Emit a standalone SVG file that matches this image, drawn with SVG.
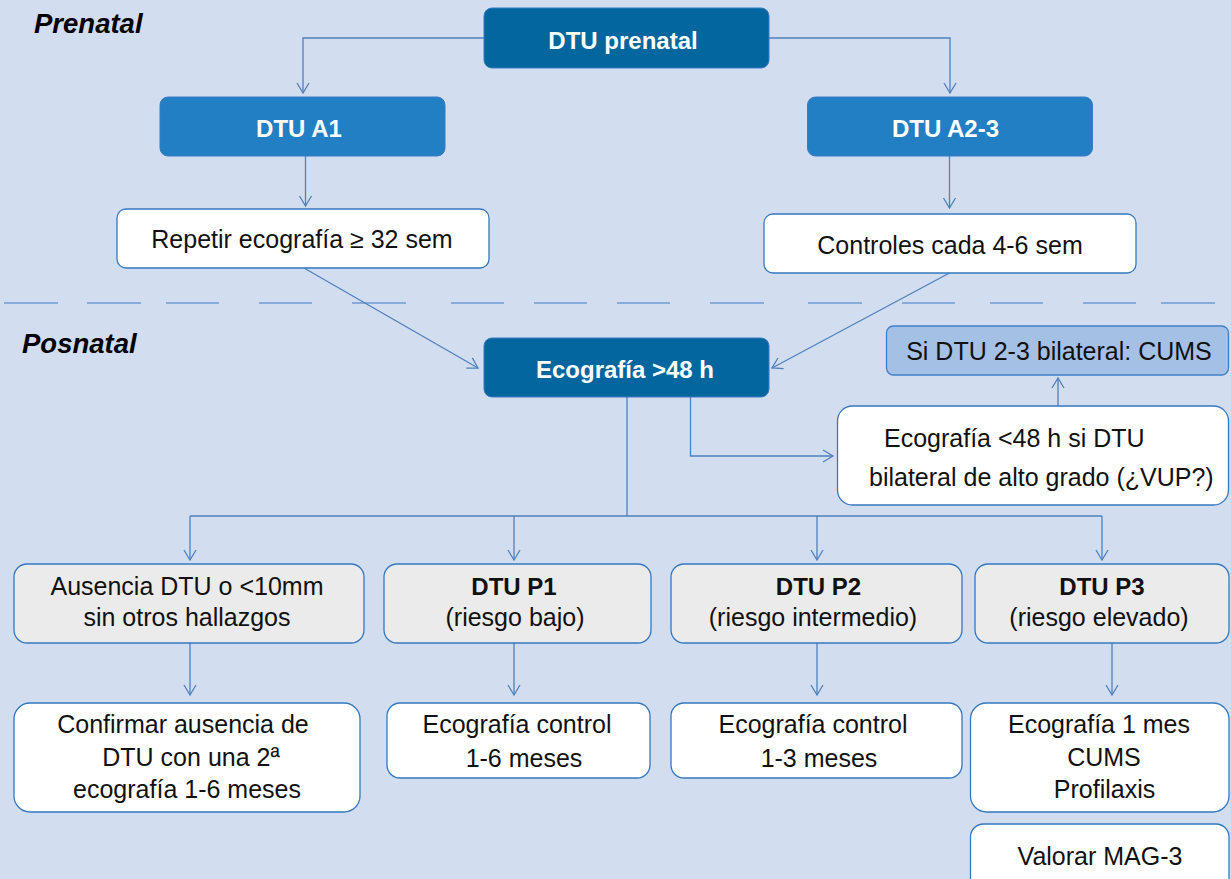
<svg xmlns="http://www.w3.org/2000/svg" width="1231" height="879" viewBox="0 0 1231 879">
<defs>
<marker id="arr" markerUnits="userSpaceOnUse" markerWidth="16" markerHeight="16" refX="11" refY="7" orient="auto">
<path d="M1,1 L11,7 L1,13" fill="none" stroke="#4F81BD" stroke-width="1.3"/>
</marker>
<style>
.bg{fill:#D2DDF0}
.dark{fill:#03669F;stroke:#3B7BC2;stroke-width:1}
.mid{fill:#237FC4;stroke:#3B7BC2;stroke-width:1}
.white{fill:#FFFFFF;stroke:#3478C0;stroke-width:1.3}
.gray{fill:#EBEBEB;stroke:#3478C0;stroke-width:1.3}
.light{fill:#A5C0E5;stroke:#3F7FC8;stroke-width:1.3}
.t{font-family:"Liberation Sans",Arial,sans-serif;font-size:25px;fill:#111111;text-anchor:middle}
.b{font-family:"Liberation Sans",Arial,sans-serif;font-size:24px;font-weight:bold;fill:#FFFFFF;text-anchor:middle}
.bk{font-family:"Liberation Sans",Arial,sans-serif;font-size:24px;font-weight:bold;fill:#111111;text-anchor:middle}
.h{font-family:"Liberation Sans",Arial,sans-serif;font-size:27.5px;font-weight:bold;font-style:italic;fill:#000000}
.c{fill:none;stroke:#4F81BD;stroke-width:1.3}
.d{fill:none;stroke:#6F9BD3;stroke-width:1.6}
</style>
</defs>
<rect class="bg" x="0" y="0" width="1231" height="879"/>

<g id="separator">
<path class="d" d="M4,303H58M87,303H141M166,303H219M259,303H312M352,303H406M451,303H504M534,303H587M617,303H670M710,303H764M808,303H862M902,303H955M990,303H1043M1083,303H1136M1161,303H1215"/>
</g>

<g id="labels">
<text class="h" x="34" y="33">Prenatal</text>
<text class="h" x="22" y="353">Posnatal</text>
</g>

<g id="connectors">
<path class="c" d="M484,38H303V93" marker-end="url(#arr)"/>
<path class="c" d="M769,38H950V93" marker-end="url(#arr)"/>
<path class="c" d="M305.5,156V206" marker-end="url(#arr)"/>
<path class="c" d="M949.5,156V208" marker-end="url(#arr)"/>
<path class="c" d="M304,268L478,368" marker-end="url(#arr)"/>
<path class="c" d="M949.5,273L772,368" marker-end="url(#arr)"/>
<path class="c" d="M690.5,397V456H833" marker-end="url(#arr)"/>
<path class="c" d="M1058,406V378" marker-end="url(#arr)"/>
<path class="c" d="M627,397V516M190,516H1102"/>
<path class="c" d="M190,516V560" marker-end="url(#arr)"/>
<path class="c" d="M514,516V560" marker-end="url(#arr)"/>
<path class="c" d="M817,516V560" marker-end="url(#arr)"/>
<path class="c" d="M1102,516V560" marker-end="url(#arr)"/>
<path class="c" d="M190,643V695" marker-end="url(#arr)"/>
<path class="c" d="M514,643V695" marker-end="url(#arr)"/>
<path class="c" d="M817,643V695" marker-end="url(#arr)"/>
<path class="c" d="M1112,643V695" marker-end="url(#arr)"/>
</g>

<g id="dtu-prenatal">
<rect class="dark" x="484" y="8" width="285" height="60" rx="8"/>
<text class="b" x="623" y="49">DTU prenatal</text>
</g>
<g id="dtu-a1">
<rect class="mid" x="160" y="97" width="285" height="59" rx="8"/>
<text class="b" x="299" y="137">DTU A1</text>
</g>
<g id="dtu-a23">
<rect class="mid" x="807.5" y="97" width="285" height="59" rx="8"/>
<text class="b" x="945.5" y="137">DTU A2-3</text>
</g>
<g id="repetir">
<rect class="white" x="117" y="209" width="372" height="59" rx="9"/>
<text class="t" x="302" y="248">Repetir ecografía ≥ 32 sem</text>
</g>
<g id="controles">
<rect class="white" x="764" y="214" width="372" height="59" rx="9"/>
<text class="t" x="950" y="254">Controles cada 4-6 sem</text>
</g>
<g id="eco-48">
<rect class="dark" x="484" y="338" width="285" height="59" rx="8"/>
<text class="b" x="625" y="378">Ecografía &gt;48 h</text>
</g>
<g id="si-dtu">
<rect class="light" x="886.5" y="326" width="342" height="49" rx="7"/>
<text class="t" x="1059" y="360">Si DTU 2-3 bilateral: CUMS</text>
</g>
<g id="eco-menos48">
<rect class="white" x="837.5" y="406" width="391" height="99" rx="15"/>
<text class="t" x="884" y="447" style="text-anchor:start">Ecografía &lt;48 h si DTU</text>
<text class="t" x="869" y="486" style="text-anchor:start">bilateral de alto grado (¿VUP?)</text>
</g>
<g id="ausencia">
<rect class="gray" x="14" y="564" width="350" height="79" rx="13"/>
<text class="t" x="187" y="595">Ausencia DTU o &lt;10mm</text>
<text class="t" x="187" y="626">sin otros hallazgos</text>
</g>
<g id="p1">
<rect class="gray" x="384" y="564" width="267" height="79" rx="13"/>
<text class="bk" x="514" y="595">DTU P1</text>
<text class="t" x="515" y="626">(riesgo bajo)</text>
</g>
<g id="p2">
<rect class="gray" x="671" y="564" width="291" height="79" rx="13"/>
<text class="bk" x="818.5" y="595">DTU P2</text>
<text class="t" x="813" y="626">(riesgo intermedio)</text>
</g>
<g id="p3">
<rect class="gray" x="975" y="564" width="254" height="79" rx="13"/>
<text class="bk" x="1102" y="595">DTU P3</text>
<text class="t" x="1099" y="626">(riesgo elevado)</text>
</g>
<g id="confirmar">
<rect class="white" x="14" y="703" width="346" height="109" rx="16"/>
<text class="t" x="183" y="733">Confirmar ausencia de</text>
<text class="t" x="191" y="766">DTU con una 2ª</text>
<text class="t" x="187" y="798">ecografía 1-6 meses</text>
</g>
<g id="eco-1-6">
<rect class="white" x="387" y="703" width="263" height="75" rx="13"/>
<text class="t" x="517" y="733">Ecografía control</text>
<text class="t" x="524" y="767">1-6 meses</text>
</g>
<g id="eco-1-3">
<rect class="white" x="671" y="703" width="291" height="75" rx="13"/>
<text class="t" x="813" y="733">Ecografía control</text>
<text class="t" x="819" y="767">1-3 meses</text>
</g>
<g id="eco-1mes">
<rect class="white" x="970.5" y="703" width="258.5" height="109" rx="16"/>
<text class="t" x="1099" y="733">Ecografía 1 mes</text>
<text class="t" x="1104" y="766">CUMS</text>
<text class="t" x="1104.5" y="798">Profilaxis</text>
</g>
<g id="mag3">
<rect class="white" x="970.5" y="824" width="258.5" height="70" rx="13"/>
<text class="t" x="1100" y="865">Valorar MAG-3</text>
</g>
</svg>
